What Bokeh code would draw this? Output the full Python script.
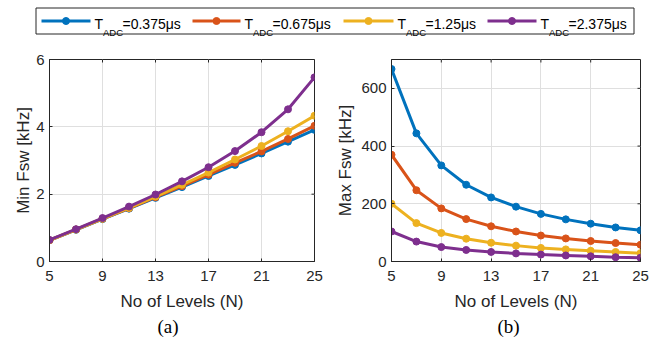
import math
from bokeh.plotting import figure
from bokeh.models import Range1d, FixedTicker, Title
from bokeh.layouts import column, row
from bokeh.core.properties import value
from bokeh.embed import file_html
from bokeh.resources import INLINE

# ---------------- data ----------------
levels = [5, 7, 9, 11, 13, 15, 17, 19, 21, 23, 25]
series_names = ["0.375μs", "0.675μs", "1.25μs", "2.375μs"]

min_fsw_0375 = [0.63, 0.94, 1.26, 1.57, 1.89, 2.21, 2.54, 2.87, 3.21, 3.56, 3.91]
min_fsw_0675 = [0.63, 0.95, 1.27, 1.58, 1.91, 2.24, 2.58, 2.93, 3.27, 3.64, 4.03]
min_fsw_125 = [0.63, 0.95, 1.27, 1.59, 1.93, 2.28, 2.64, 3.03, 3.43, 3.87, 4.33]
min_fsw_2375 = [0.64, 0.96, 1.29, 1.63, 1.99, 2.38, 2.80, 3.28, 3.84, 4.52, 5.47]

max_fsw_0375 = [667, 444, 333, 266, 222, 190, 165, 146, 131, 118, 108]
max_fsw_0675 = [370, 247, 184, 147, 122, 104, 90, 80, 71, 64, 58]
max_fsw_125 = [200, 133, 99, 79, 65, 55, 47, 42, 37, 33, 29]
max_fsw_2375 = [104, 69, 50, 40, 33, 28, 24, 21, 18, 15, 13]

x_ticks = [5, 9, 13, 17, 21, 25]
min_ticks = [0, 2, 4, 6]
max_ticks = [0, 200, 400, 600]

colors = ["#0072BD", "#D95319", "#EDB120", "#7E2F8E"]
SANS = "Liberation Sans"
SERIF = "Liberation Serif"
AX = "#262626"


def make_panel(width, left, right, yr, yticks, ylabel, series, caption, cap_offset,
               ylab_standoff):
    x0, x1 = 5, 25
    y0, y1 = yr
    p = figure(width=width, height=299, output_backend="svg", toolbar_location=None,
               x_range=Range1d(x0, x1), y_range=Range1d(y0, y1),
               min_border_left=left, min_border_right=right,
               min_border_top=19, min_border_bottom=78)
    p.outline_line_color = AX
    p.background_fill_color = "white"
    p.border_fill_color = "white"
    p.xaxis.ticker = FixedTicker(ticks=x_ticks)
    p.yaxis.ticker = FixedTicker(ticks=yticks)
    for ax in (p.xaxis[0], p.yaxis[0]):
        ax.axis_line_color = AX
        ax.major_tick_line_color = AX
        ax.major_tick_in = 3
        ax.major_tick_out = 0
        ax.minor_tick_line_color = None
        ax.major_label_text_font = SANS
        ax.major_label_text_font_size = "15px"
        ax.major_label_text_color = AX
        ax.axis_label_text_font = SANS
        ax.axis_label_text_font_size = "17px"
        ax.axis_label_text_font_style = "normal"
        ax.axis_label_text_color = AX
    p.xaxis.axis_label = "No of Levels (N)"
    p.xaxis.major_label_standoff = 9
    p.xaxis.axis_label_standoff = 8
    p.yaxis.axis_label = ylabel
    p.yaxis.major_label_standoff = 5
    p.yaxis.axis_label_standoff = ylab_standoff
    p.grid.grid_line_color = "#dfdfdf"
    p.xgrid.ticker = FixedTicker(ticks=x_ticks)
    p.ygrid.ticker = FixedTicker(ticks=yticks)

    # inward ticks on the top and right edges of the box
    p.ray(x=x_ticks, y=[y1] * len(x_ticks), length=3, length_units="screen",
          angle=-math.pi / 2, line_color=AX, line_width=1)
    p.ray(x=[x1] * len(yticks), y=yticks, length=3, length_units="screen",
          angle=math.pi, line_color=AX, line_width=1)

    for ys, c in zip(series, colors):
        p.line(levels, ys, line_color=c, line_width=3)
        p.scatter(levels, ys, marker="circle", size=7, fill_color=c, line_color=c)

    t = Title(text=caption, align="left", offset=cap_offset, text_font=SERIF,
              text_font_size="19px", text_font_style="normal", text_color="black",
              standoff=0)
    p.add_layout(t, "below")
    return p


p1 = make_panel(330, 49, 16, (0, 6), min_ticks, "Min Fsw [kHz]",
                [min_fsw_0375, min_fsw_0675, min_fsw_125, min_fsw_2375], "(a)", 108, 0)
p2 = make_panel(335, 61, 25, (0, 700), max_ticks, "Max Fsw [kHz]",
                [max_fsw_0375, max_fsw_0675, max_fsw_125, max_fsw_2375], "(b)", 106, 3)

# ---------------- legend strip ----------------
lg = figure(width=665, height=40, output_backend="svg", toolbar_location=None,
            x_range=Range1d(0, 665), y_range=Range1d(40, 0),
            min_border_left=0, min_border_right=0, min_border_top=0, min_border_bottom=0)
lg.axis.visible = False
lg.grid.visible = False
lg.outline_line_color = None
lg.border_fill_color = "white"

lg.quad(left=[35.5], right=[633.5], top=[7.5], bottom=[33.5], fill_color="white",
        line_color=AX, line_width=1)
line_x0 = [41, 192, 343, 487]
line_x1 = [90, 240, 393, 536]
text_x = [94, 244, 397, 540]
for i, c in enumerate(colors):
    lg.line([line_x0[i], line_x1[i]], [20.5, 20.5], line_color=c, line_width=3)
    lg.scatter([(line_x0[i] + line_x1[i]) / 2], [20.5], marker="circle", size=7,
               fill_color=c, line_color=c)
lg.text(x=text_x, y=[23] * 4, text=["T"] * 4, text_font=value(SANS),
        text_font_size=value("14px"), text_baseline="alphabetic", text_align="left",
        text_color="black")
lg.text(x=[t + 8.5 for t in text_x], y=[31.5] * 4, text=["ADC"] * 4, text_font=value(SANS),
        text_font_size=value("9.5px"), text_baseline="alphabetic", text_align="left",
        text_color="black")
lg.text(x=[t + 28 for t in text_x], y=[23] * 4, text=["=" + s for s in series_names],
        text_font=value(SANS), text_font_size=value("14px"), text_baseline="alphabetic",
        text_align="left", text_color="black")

layout = column(lg, row(p1, p2))
open("out.html", "w").write(file_html(layout, INLINE))
